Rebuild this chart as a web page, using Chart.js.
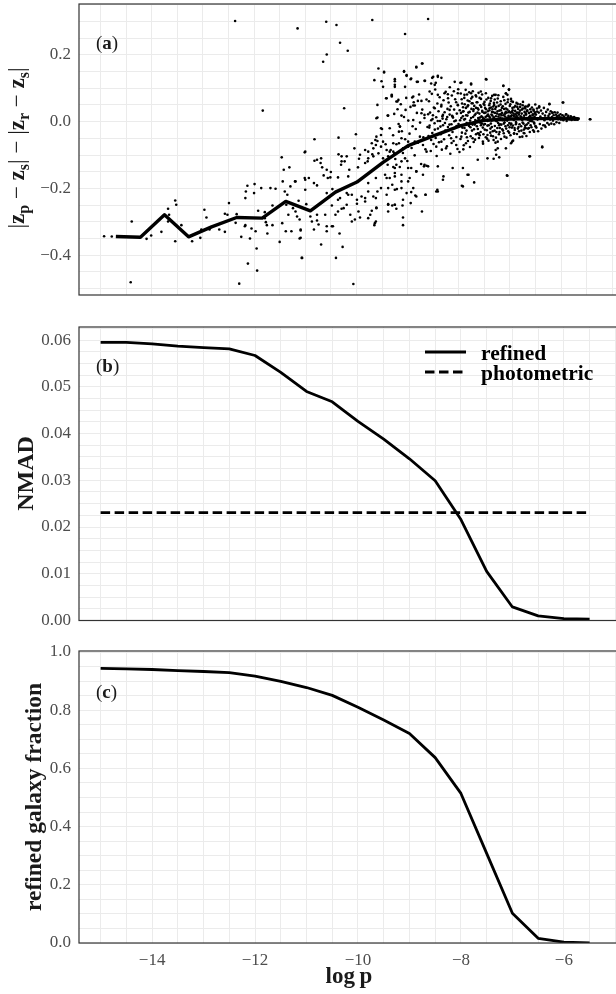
<!DOCTYPE html>
<html>
<head>
<meta charset="utf-8">
<script src="https://cdn.jsdelivr.net/npm/chart.js@4.4.1/dist/chart.umd.min.js"></script>
<style>
  html, body { margin: 0; padding: 0; background: #fff; overflow: hidden; width: 616px; height: 994px; }
  canvas { position: absolute; left: 0; }
  #chartA { top: 0; }
  #chartB { top: 305px; }
  #chartC { top: 630px; }
</style>
</head>
<body>
<canvas id="chartA" width="622" height="300"></canvas>
<canvas id="chartB" width="622" height="320"></canvas>
<canvas id="chartC" width="622" height="364"></canvas>
<script>
// ---- data ----
// panel (a): running median of |zp-zs|-|zr-zs| against log p
const medianLogP = [-14.70, -14.22, -13.75, -13.28, -12.83, -12.34, -11.84, -11.38, -10.90, -10.41,
                    -9.99, -9.48, -8.99, -8.47, -7.96, -7.50, -6.98, -6.47, -6.01, -5.66];
const medianDz = [-0.344, -0.346, -0.279, -0.345, -0.315, -0.287, -0.289, -0.239, -0.267, -0.211,
                  -0.181, -0.122, -0.072, -0.041, -0.012, 0.004, 0.008, 0.009, 0.009, 0.007];

// panel (a): individual galaxies [log p, dz]
const galaxies = [
  [-14.93,-0.343],[-14.78,-0.344],[-14.39,-0.299],[-14.41,-0.481],[-14.10,-0.351],[-14.01,-0.341],[-13.81,-0.330],
  [-13.68,-0.299],[-13.68,-0.261],[-13.66,-0.279],[-13.54,-0.236],[-13.52,-0.249],[-13.54,-0.358],[-13.42,-0.310],
  [-13.21,-0.358],[-13.03,-0.323],[-13.05,-0.348],[-12.97,-0.264],[-12.93,-0.287],[-12.87,-0.323],[-12.68,-0.323],
  [-12.57,-0.276],[-12.52,-0.279],[-12.57,-0.330],[-12.49,-0.244],[-12.37,0.301],[-12.29,-0.485],[-12.36,-0.303],
  [-12.34,-0.277],[-12.25,-0.345],[-12.18,-0.313],[-12.17,-0.229],[-12.16,-0.209],[-12.13,-0.192],[-12.17,-0.310],
  [-12.12,-0.425],[-12.08,-0.350],[-12.05,-0.320],[-12.00,-0.214],[-11.99,-0.187],[-11.97,-0.328],[-11.95,-0.380],
  [-11.94,-0.446],[-11.92,-0.267],[-11.86,-0.199],[-11.83,0.033],[-11.79,-0.271],[-11.79,-0.289],[-11.77,-0.301],
  [-11.75,-0.310],[-11.74,-0.335],[-11.68,-0.199],[-11.64,-0.251],[-11.64,-0.310],[-11.58,-0.201],[-11.50,-0.360],
  [-11.46,-0.107],[-11.45,-0.304],[-11.44,-0.179],[-11.42,-0.144],[-11.40,-0.209],[-11.38,-0.328],[-11.37,-0.249],
  [-11.35,-0.219],[-11.33,-0.279],[-11.31,-0.137],[-11.29,-0.194],[-11.27,-0.328],[-11.24,-0.259],[-11.20,-0.179],
  [-11.19,-0.269],[-11.16,-0.284],[-11.15,0.279],[-11.13,-0.237],[-11.11,-0.293],[-11.11,-0.350],[-11.09,-0.323],
  [-11.07,-0.408],[-11.01,-0.092],[-11.00,-0.174],[-11.19,-0.179],[-10.93,-0.169],
  [-10.59,0.299],[-10.39,0.289],[-9.69,0.304],[-8.60,0.307],[-9.05,0.262],[-10.32,0.236],[-10.17,0.212],
  [-10.58,0.201],[-10.65,0.179],[-10.24,0.040],[-10.82,-0.053],[-11.00,-0.090],[-9.57,0.159],[-9.46,0.147],
  [-9.65,0.124],[-9.51,0.121],[-9.25,0.121],[-9.07,0.151],[-9.02,0.137],[-8.94,0.127],[-8.83,0.162],[-8.72,0.174],
  [-8.82,0.119],[-8.67,0.122],[-8.50,0.134],[-8.41,0.137],[-8.34,0.131],[-8.45,0.116],[-7.97,0.116],[-7.76,0.114],
  [-7.46,0.126],[-7.13,0.107],[-7.02,0.095],[-7.08,0.084],[-9.59,0.050],[-9.42,0.070],[-9.31,0.078],[-9.20,0.060],
  [-9.61,0.010],[-9.39,0.018],[-8.91,0.072],[-8.89,0.048],[-8.80,0.062],[-9.04,0.035],[-9.15,-0.015],[-9.17,-0.030],
  [-9.35,-0.020],[-9.52,-0.020],[-9.52,-0.040],[-9.61,-0.045],[-10.35,-0.048],[-10.82,-0.117],[-10.77,-0.114],
  [-11.01,-0.169],[-11.00,-0.204],[-10.98,-0.247],[-10.83,-0.184],[-10.77,-0.191],[-10.70,-0.124],[-10.67,-0.137],
  [-10.69,-0.110],[-10.64,-0.161],[-10.56,-0.169],[-10.50,-0.151],[-10.58,-0.214],[-10.47,-0.202],[-10.35,-0.098],
  [-10.29,-0.104],[-10.30,-0.129],[-10.23,-0.119],[-10.36,-0.167],[-10.16,-0.164],[-10.04,-0.080],[-10.01,-0.038],
  [-9.95,-0.111],[-9.93,-0.099],[-9.97,-0.137],[-9.83,-0.124],[-9.77,-0.110],[-9.69,-0.098],[-9.62,-0.070],
  [-9.67,-0.080],[-9.57,-0.095],[-9.59,-0.058],[-9.48,-0.060],[-9.43,-0.068],[-9.33,-0.085],[-9.26,-0.095],
  [-9.17,-0.065],[-9.09,-0.080],[-8.99,-0.060],[-9.48,-0.110],[-9.39,-0.129],[-9.28,-0.136],[-9.22,-0.129],
  [-9.12,-0.119],[-9.05,-0.110],[-9.41,-0.169],[-9.25,-0.164],[-9.12,-0.159],[-8.99,-0.179],[-8.93,-0.139],
  [-8.83,-0.149],[-8.68,-0.134],[-8.63,-0.132],[-9.52,-0.199],[-9.59,-0.209],[-9.38,-0.199],[-9.30,-0.189],
  [-9.21,-0.202],[-9.12,-0.199],[-9.62,-0.229],[-9.41,-0.219],[-8.93,-0.211],[-8.85,-0.221],[-9.38,-0.247],
  [-9.30,-0.251],[-9.22,-0.261],[-9.10,-0.251],[-9.09,-0.287],[-9.09,-0.310],[-9.62,-0.299],[-9.70,-0.267],
  [-9.73,-0.279],[-9.65,-0.310],[-8.72,-0.269],[-8.65,-0.219],[-8.44,-0.209],[-8.42,-0.204],[-7.94,-0.192],
  [-7.70,-0.182],[-7.81,-0.159],[-8.30,-0.164],[-7.06,-0.161],[-6.62,-0.104],[-6.37,-0.077],[-5.43,0.007],
  [-5.97,0.057],[-6.23,0.053],[-10.06,-0.486],[-10.40,-0.408],[-10.27,-0.375],[-10.69,-0.368],[-11.06,-0.408],
  [-10.33,-0.335],[-10.46,-0.313],[-10.58,-0.328],[-10.83,-0.323],[-10.77,-0.296],[-11.09,-0.326],[-11.09,-0.348],
  [-10.90,-0.284],[-10.61,-0.279],[-10.48,-0.251],[-10.29,-0.261],[-10.19,-0.249],[-10.12,-0.279],[-10.03,-0.293],
  [-9.99,-0.246],[-9.90,-0.224],[-9.83,-0.239],[-9.93,-0.287],[-9.77,-0.184],[-10.16,-0.219],[-10.36,-0.234],
  [-9.62,-0.169],[-9.61,-0.257],
  [-10.58,-0.144],[-10.51,-0.167],[-10.19,-0.104],[-10.29,-0.119],[-10.14,-0.144],[-9.83,-0.085],[-9.77,-0.090],
  [-9.78,-0.119],[-9.70,-0.065],[-9.63,-0.055],[-9.67,-0.104],[-9.52,-0.075],[-9.50,-0.022],[-9.41,-0.085],
  [-9.38,-0.104],[-9.28,-0.090],[-9.44,-0.159],[-9.35,-0.169],[-9.25,-0.139],[-9.59,0.012],[-9.38,0.018],
  [-9.31,0.075],[-9.41,0.070],[-9.46,0.149],[-9.48,0.104],[-9.25,0.110],[-9.22,0.060],[-9.96,-0.269],
  [-10.09,-0.299],[-9.77,-0.289],[-9.64,-0.304],[-9.61,-0.259],[-9.38,-0.249],[-9.25,-0.249],[-9.38,-0.269],
  [-9.77,-0.209],[-9.67,-0.224],[-9.83,-0.229],[-10.19,-0.214],[-10.32,-0.229],[-10.25,-0.259],[-10.41,-0.279],
  [-10.77,-0.279],[-10.74,-0.308],[-10.87,-0.299],[-10.58,-0.313],[-10.48,-0.313],[-10.36,-0.269],[-9.99,-0.234],
  [-10.09,-0.219],
  [-9.07,0.149],[-9.02,0.139],[-8.71,0.174],[-8.83,0.164],[-8.93,0.129],[-9.25,0.127],[-9.25,0.104],[-9.05,0.104],
  [-8.80,0.119],[-8.66,0.122],[-8.52,0.131],[-8.41,0.134],[-8.47,0.110],[-8.54,0.114],[-8.08,0.119],[-7.95,0.117],
  [-7.76,0.111],[-7.47,0.127],[-9.31,0.080],[-9.18,0.065],[-8.89,0.075],[-8.86,0.048],[-8.73,0.062],[-8.57,0.090],
  [-8.41,0.080],[-8.28,0.085],[-8.21,0.070],[-8.02,0.085],[-7.89,0.080],[-7.76,0.085],[-7.66,0.075],[-7.57,0.090],
  [-7.37,0.070],[-7.31,0.080],[-8.73,0.025],[-8.67,0.020],[-8.60,0.022],[-8.89,0.005],[-9.12,0.018],[-9.15,-0.015],
  [-8.47,0.040],[-8.34,0.050],[-8.31,0.020],[-8.18,0.035],[-8.12,0.015],[-8.02,0.050],[-7.92,0.030],[-7.83,0.045],
  [-7.73,0.055],[-7.63,0.040],[-7.50,0.050],[-7.40,0.040],[-7.31,0.050],
  [-9.35,-0.090],[-9.28,-0.065],[-9.12,-0.050],[-8.99,-0.075],[-8.86,-0.060],[-8.76,-0.045],[-8.70,-0.070],
  [-8.63,-0.090],[-8.54,-0.055],[-8.44,-0.075],[-8.34,-0.060],[-8.25,-0.080],[-8.15,-0.050],[-8.05,-0.070],
  [-7.95,-0.045],[-7.86,-0.065],[-7.73,-0.050],[-7.63,-0.035],[-7.53,-0.060],[-7.44,-0.040],[-7.32,-0.055],
  [-7.63,-0.114],[-7.44,-0.110],[-7.92,-0.139],[-8.12,-0.139],[-8.41,-0.134],[-8.67,-0.129],[-8.83,-0.149],
  [-8.99,-0.139],[-9.25,-0.154],[-9.12,-0.179],[-8.96,-0.169],[-8.70,-0.159],[-8.60,-0.134],[-8.41,-0.209],
  [-8.31,-0.174],[-7.92,-0.194],[-7.83,-0.159],[-8.89,-0.199],[-9.25,-0.204],[-9.02,-0.214],[-8.83,-0.224],
  [-9.09,-0.234],[-9.25,-0.249],[-8.94,-0.244],[-8.65,-0.219],[-7.24,-0.080],[-7.27,-0.099],
  [-7.13,0.107],[-7.08,0.085],[-7.02,0.097],[-7.05,0.080],[-7.28,0.080],[-6.98,0.068],[-6.63,0.050],[-6.69,0.045],
  [-6.47,0.030],[-6.43,0.042],[-6.23,0.052],[-5.96,0.057],[-6.17,0.027],[-5.90,0.022],[-5.44,0.007],[-6.37,-0.075],
  [-6.61,-0.104],[-7.05,-0.162],[-7.21,-0.107],[-7.32,-0.111],[-7.28,-0.085],[-7.08,-0.080],[-6.96,-0.060],
  [-6.98,-0.065],[-6.76,-0.045],[-6.53,-0.030],[-6.69,-0.020],[-6.50,-0.015],[-6.32,-0.012],[-6.72,-0.035],
  [-6.92,-0.035],[-7.24,-0.060],
  // crowded core between log p = -8 and -6.5
  [-7.982,0.034],[-7.967,-0.052],[-7.951,0.011],[-7.944,0.067],[-7.931,-0.018],[-7.917,0.043],[-7.903,-0.071],[-7.896,0.006],
  [-7.884,0.052],[-7.871,-0.036],[-7.858,0.019],[-7.846,-0.004],[-7.839,0.081],[-7.822,-0.058],[-7.813,0.027],[-7.801,-0.013],
  [-7.793,0.061],[-7.779,0.003],[-7.768,-0.044],[-7.754,0.038],[-7.742,-0.027],[-7.736,0.074],[-7.721,0.014],[-7.709,-0.061],
  [-7.698,0.047],[-7.687,-0.009],[-7.672,0.023],[-7.664,-0.038],[-7.651,0.058],[-7.643,0.002],[-7.628,-0.022],[-7.617,0.036],
  [-7.606,-0.049],[-7.594,0.071],[-7.588,0.012],[-7.573,-0.031],[-7.562,0.044],[-7.551,-0.006],[-7.539,0.029],[-7.527,-0.066],
  [-7.516,0.053],[-7.508,0.008],[-7.494,-0.024],[-7.486,0.041],[-7.473,-0.047],[-7.461,0.066],[-7.452,0.017],[-7.441,-0.012],
  [-7.433,0.031],[-7.419,-0.057],[-7.407,0.049],[-7.398,0.004],[-7.386,-0.033],[-7.377,0.062],[-7.363,0.021],[-7.355,-0.016],
  [-7.341,0.037],[-7.332,-0.044],[-7.321,0.009],[-7.314,0.056],[-7.302,-0.027],[-7.291,0.026],[-7.283,-0.063],[-7.271,0.044],
  [-7.262,0.001],[-7.248,-0.019],[-7.239,0.069],[-7.227,0.015],[-7.216,-0.038],[-7.207,0.033],[-7.196,-0.008],[-7.184,0.051],
  [-7.176,-0.052],[-7.163,0.019],[-7.152,-0.023],[-7.141,0.046],[-7.133,0.007],[-7.122,-0.035],[-7.111,0.064],[-7.103,0.024],
  [-7.089,-0.014],[-7.078,0.039],[-7.069,-0.048],[-7.057,0.011],[-7.046,0.058],[-7.037,-0.029],[-7.024,0.028],[-7.013,-0.004],
  [-7.004,0.047],[-6.991,-0.041],[-6.983,0.016],[-6.971,0.061],[-6.962,-0.018],[-6.948,0.034],[-6.939,-0.057],[-6.927,0.005],
  [-6.918,0.043],[-6.906,-0.025],[-6.894,0.022],[-6.886,-0.008],[-6.873,0.056],[-6.864,-0.037],[-6.852,0.013],[-6.841,0.038],
  [-6.833,-0.016],[-6.821,0.027],[-6.809,-0.046],[-6.798,0.052],[-6.789,0.009],[-6.777,-0.027],[-6.766,0.036],[-6.754,-0.003],
  [-6.746,0.059],[-6.733,-0.034],[-6.722,0.018],[-6.711,0.044],[-6.703,-0.012],[-6.691,0.025],[-6.679,-0.043],[-6.668,0.031],
  [-6.659,0.006],[-6.647,-0.021],[-6.636,0.048],[-6.624,0.014],[-6.613,-0.031],[-6.604,0.037],[-6.592,0.002],[-6.581,-0.017],
  [-6.572,0.042],[-6.559,0.019],[-6.548,-0.026],[-6.537,0.033],[-6.526,-0.006],[-6.514,0.024],[-6.506,0.051],[-6.502,-0.013],
  [-7.975,0.004],[-7.958,0.026],[-7.939,-0.033],[-7.921,0.016],[-7.908,0.031],[-7.889,-0.019],[-7.877,0.008],[-7.861,0.041],
  [-7.849,-0.027],[-7.832,0.018],[-7.818,0.049],[-7.807,-0.007],[-7.788,0.029],[-7.773,-0.017],[-7.761,0.011],[-7.748,0.055],
  [-7.731,-0.009],[-7.716,0.032],[-7.703,-0.023],[-7.692,0.019],[-7.678,0.005],[-7.661,0.041],[-7.647,-0.014],[-7.633,0.027],
  [-7.621,0.011],[-7.609,-0.036],[-7.598,0.024],[-7.581,0.049],[-7.568,-0.011],[-7.557,0.016],[-7.543,0.032],[-7.531,-0.018],
  [-7.522,0.009],[-7.503,0.026],[-7.489,-0.007],[-7.477,0.014],[-7.466,0.037],[-7.455,-0.026],[-7.444,0.005],[-7.428,0.021],
  [-7.415,-0.011],[-7.403,0.034],[-7.391,0.012],[-7.382,-0.021],[-7.369,0.042],[-7.358,0.003],[-7.346,0.018],[-7.337,-0.029],
  [-7.325,0.028],[-7.309,0.006],[-7.296,-0.013],[-7.287,0.038],[-7.276,0.016],[-7.266,-0.031],[-7.253,0.024],[-7.243,0.008],
  [-7.231,-0.004],[-7.221,0.047],[-7.211,0.021],[-7.199,-0.019],[-7.188,0.012],[-7.179,0.034],[-7.167,-0.009],[-7.157,0.026],
  [-7.146,0.004],[-7.137,-0.027],[-7.126,0.019],[-7.115,0.038],[-7.106,-0.002],[-7.094,0.015],[-7.083,0.029],[-7.074,-0.021],
  [-7.061,0.008],[-7.051,0.036],[-7.041,-0.011],[-7.029,0.017],[-7.018,0.031],[-7.008,-0.017],[-6.996,0.009],[-6.987,0.027],
  [-6.976,-0.006],[-6.966,0.019],[-6.953,0.041],[-6.944,-0.012],[-6.931,0.024],[-6.922,0.006],[-6.911,-0.019],[-6.899,0.032],
  [-6.889,0.013],[-6.878,-0.004],[-6.868,0.027],[-6.857,0.044],[-6.846,-0.021],[-6.837,0.009],[-6.826,0.021],[-6.814,-0.008],
  [-6.803,0.033],[-6.793,0.016],[-6.782,-0.014],[-6.771,0.024],[-6.761,0.005],[-6.749,0.039],[-6.738,-0.006],[-6.727,0.012],
  [-6.716,0.029],[-6.707,-0.018],[-6.695,0.008],[-6.684,0.021],[-6.673,-0.009],[-6.663,0.034],[-6.652,0.011],[-6.641,-0.004],
  [-6.629,0.026],[-6.619,0.003],[-6.608,0.017],[-6.597,-0.011],[-6.586,0.029],[-6.576,0.012],[-6.564,0.001],[-6.553,0.022],
  [-6.542,0.036],[-6.531,-0.003],[-6.521,0.015],[-6.511,0.028],
  [-8.214,0.082],[-8.176,0.103],[-8.141,-0.064],[-8.097,0.091],[-8.052,0.058],[-8.011,0.097],[-7.987,-0.091],[-7.962,0.084],
  [-7.936,0.054],[-7.912,-0.083],[-7.893,0.071],[-7.866,0.095],[-7.842,-0.047],[-7.827,0.063],[-7.797,0.088],[-7.782,-0.076],
  [-7.758,0.069],[-7.727,0.091],[-7.712,0.037],[-7.683,-0.054],[-7.669,0.079],[-7.638,0.058],[-7.614,0.086],[-7.591,-0.041],
  [-7.566,0.068],[-7.545,0.081],[-7.519,-0.038],[-7.498,0.059],[-7.471,0.085],[-7.447,-0.051],[-7.424,0.071],[-7.395,0.054],
  [-7.372,-0.042],[-7.348,0.077],[-7.327,0.045],[-7.298,0.066],[-7.274,-0.048],[-7.252,0.057],[-7.228,0.079],[-7.204,-0.031],
  [-7.181,0.061],[-7.159,0.041],[-7.131,0.074],[-7.108,-0.045],[-7.087,0.053],[-7.063,0.027],[-7.039,0.066],[-7.016,-0.033],
  [-6.993,0.052],[-6.969,0.028],[-6.943,0.059],[-6.921,-0.036],[-6.897,0.047],[-6.872,0.018],[-6.849,0.053],[-6.823,-0.029],
  [-6.801,0.044],[-6.776,0.014],[-6.752,0.049],[-6.728,-0.024],[-6.702,0.039],[-6.677,0.011],[-6.654,0.045],[-6.631,-0.019],
  [-7.612,0.006],[-7.583,-0.003],[-7.538,0.013],[-7.512,-0.009],[-7.476,0.027],[-7.438,0.002],[-7.412,0.016],[-7.374,-0.006],
  [-7.352,0.029],[-7.318,0.013],[-7.281,0.004],[-7.245,0.031],[-7.213,-0.011],[-7.186,0.022],[-7.148,0.009],[-7.119,-0.006],
  [-7.092,0.024],[-7.055,0.003],[-7.022,0.014],[-6.985,-0.009],[-6.958,0.029],[-6.925,0.017],[-6.884,-0.001],[-6.851,0.026],
  // log p = -8.6 to -8
  [-8.592,-0.043],[-8.583,0.061],[-8.571,-0.012],[-8.562,0.027],[-8.548,-0.088],[-8.539,0.004],[-8.527,0.083],[-8.518,-0.034],
  [-8.506,0.019],[-8.494,-0.067],[-8.487,0.042],[-8.473,-0.005],[-8.461,0.096],[-8.452,-0.049],[-8.441,0.013],[-8.433,-0.103],
  [-8.419,0.054],[-8.408,-0.021],[-8.396,0.031],[-8.387,-0.062],[-8.374,0.073],[-8.366,0.002],[-8.352,-0.038],[-8.343,0.045],
  [-8.331,-0.084],[-8.322,0.016],[-8.309,-0.011],[-8.298,0.064],[-8.288,-0.053],[-8.277,0.028],[-8.264,-0.027],[-8.256,0.089],
  [-8.243,0.007],[-8.233,-0.074],[-8.221,0.038],[-8.212,-0.016],[-8.199,0.057],[-8.188,-0.041],[-8.179,0.021],[-8.166,-0.096],
  [-8.157,0.046],[-8.144,-0.008],[-8.136,0.078],[-8.123,-0.031],[-8.114,0.012],[-8.102,-0.058],[-8.091,0.036],[-8.082,-0.019],
  [-8.071,0.067],[-8.059,0.003],[-8.048,-0.046],[-8.039,0.024],[-8.026,-0.082],[-8.017,0.049],[-8.006,-0.007],
  [-8.577,-0.018],[-8.513,0.008],[-8.468,-0.024],[-8.412,0.002],[-8.359,-0.015],[-8.317,0.009],[-8.271,-0.004],[-8.226,0.014],
  [-8.183,-0.009],[-8.131,0.017],[-8.087,0.001],[-8.044,-0.013],
  // log p = -9.3 to -8.6
  [-9.284,-0.041],[-9.262,0.023],[-9.241,-0.112],[-9.219,-0.068],[-9.197,0.037],[-9.176,-0.007],[-9.153,-0.136],[-9.134,0.052],
  [-9.113,-0.029],[-9.092,-0.094],[-9.071,0.014],[-9.048,-0.053],[-9.027,0.071],[-9.006,-0.118],[-8.987,0.003],[-8.963,-0.036],
  [-8.944,0.044],[-8.922,-0.079],[-8.903,-0.014],[-8.881,0.058],[-8.862,-0.101],[-8.841,-0.022],[-8.819,0.026],[-8.798,-0.063],
  [-8.776,0.081],[-8.757,-0.003],[-8.736,-0.127],[-8.714,0.036],[-8.693,-0.047],[-8.671,0.011],[-8.652,-0.083],[-8.631,0.066],
  [-8.612,-0.016],
  // log p = -6.5 to -6
  [-6.493,0.021],[-6.484,-0.018],[-6.471,0.039],[-6.462,0.006],[-6.451,-0.029],[-6.438,0.027],[-6.429,0.046],[-6.417,-0.007],
  [-6.406,0.015],[-6.394,0.033],[-6.386,-0.021],[-6.373,0.009],[-6.362,0.024],[-6.351,-0.011],[-6.338,0.041],[-6.327,0.004],
  [-6.316,0.018],[-6.306,-0.016],[-6.294,0.029],[-6.283,0.011],[-6.271,-0.004],[-6.262,0.036],[-6.249,0.017],[-6.238,-0.009],
  [-6.227,0.023],[-6.216,0.006],[-6.204,0.031],[-6.193,-0.006],[-6.182,0.014],[-6.171,0.026],[-6.161,0.003],[-6.148,0.019],
  [-6.137,-0.008],[-6.126,0.028],[-6.114,0.011],[-6.103,0.021],[-6.092,-0.002],[-6.081,0.016],[-6.071,0.027],[-6.059,0.007],
  [-6.048,0.018],[-6.037,-0.004],[-6.026,0.013],[-6.014,0.022],[-6.004,0.006],
  // tail
  [-5.991,0.012],[-5.973,0.019],[-5.958,0.004],[-5.941,0.015],[-5.926,0.009],[-5.909,0.021],[-5.893,0.002],[-5.876,0.013],
  [-5.861,0.017],[-5.844,0.007],[-5.829,0.011],[-5.812,0.016],[-5.797,0.005],[-5.781,0.012],[-5.764,0.009],[-5.748,0.014],
  [-5.733,0.006],[-5.716,0.011],[-5.701,0.008],[-5.686,0.010],[-5.671,0.007],[-5.658,0.009]
];

// panel (b) and (c): binned in log p
const binLogP = [-15, -14.5, -14, -13.5, -13, -12.5, -12, -11.5, -11, -10.5,
                 -10, -9.5, -9, -8.5, -8, -7.5, -7, -6.5, -6, -5.5];
const nmadRefined = [0.0595, 0.0595, 0.0592, 0.0587, 0.0584, 0.0581, 0.0567, 0.0531, 0.0490, 0.0468,
                     0.0426, 0.0388, 0.0346, 0.0299, 0.0216, 0.0105, 0.0029, 0.0010, 0.0004, 0.0003];
const photoLogP = [-15, -5.5];
const nmadPhotometric = [0.0231, 0.0231];
const refinedFraction = [0.944, 0.942, 0.940, 0.936, 0.933, 0.929, 0.917, 0.899, 0.878, 0.851,
                         0.810, 0.766, 0.720, 0.637, 0.514, 0.308, 0.102, 0.016, 0.003, 0.000];

// ---- shared styling ----
const SERIF = '"Liberation Serif", "Times New Roman", serif';
const X_MIN = -15.42, X_MAX = -4.89;
const GRID = '#ebebeb';
const TICK_COLOR = '#4d4d4d';

function gridTicks(from, to, step) {
  const out = [];
  for (let v = from; v <= to + step / 2; v += step) {
    out.push({ value: Math.round(v * 1e6) / 1e6 });
  }
  return out;
}

function isMultiple(v, m) {
  return Math.abs(v / m - Math.round(v / m)) < 1e-6;
}

function fmt(v, dec) {
  return (v < -1e-9 ? '\u2212' : '') + Math.abs(v).toFixed(dec);
}

function pts(xs, ys) {
  return xs.map((x, i) => ({ x: x, y: ys[i] }));
}

function makeOptions(o) {
  return {
    responsive: false,
    animation: false,
    devicePixelRatio: 1,
    layout: { padding: o.padding },
    plugins: { legend: { display: false }, tooltip: { enabled: false } },
    scales: {
      x: {
        type: 'linear',
        min: X_MIN,
        max: X_MAX,
        afterBuildTicks: (s) => { s.ticks = gridTicks(-15, -5, 0.5); },
        afterFit: (s) => { s.height = o.xHeight; s.paddingLeft = 0; s.paddingRight = 0; },
        grid: { color: GRID, lineWidth: 1, drawTicks: false },
        border: { display: false },
        ticks: {
          display: o.showX,
          autoSkip: false,
          maxRotation: 0,
          padding: 7,
          color: TICK_COLOR,
          font: { family: SERIF, size: 17 },
          callback: (v) => (isMultiple(v, 2) ? fmt(v, 0) : '')
        }
      },
      y: {
        type: 'linear',
        min: o.yMin,
        max: o.yMax,
        afterBuildTicks: (s) => { s.ticks = gridTicks(o.gridFrom, o.gridTo, o.gridStep); },
        afterFit: (s) => { s.width = 79; s.paddingTop = 0; s.paddingBottom = 0; },
        grid: { color: GRID, lineWidth: 1, drawTicks: false },
        border: { display: false },
        ticks: {
          autoSkip: false,
          padding: 8,
          color: TICK_COLOR,
          font: { family: SERIF, size: 17 },
          callback: (v) => (isMultiple(v, o.labelEvery) ? fmt(v, o.dec) : '')
        }
      }
    }
  };
}

// draws a run of text pieces (for sub-scripts / mixed weights)
function richText(ctx, parts, x, y, rotate, align) {
  ctx.save();
  ctx.translate(x, y);
  if (rotate) ctx.rotate(-Math.PI / 2);
  ctx.textBaseline = 'alphabetic';
  ctx.textAlign = 'left';
  let w = 0;
  parts.forEach((p) => { ctx.font = p.font; w += ctx.measureText(p.t).width; });
  let cx = align === 'left' ? 0 : -w / 2;
  parts.forEach((p) => {
    ctx.font = p.font;
    ctx.fillStyle = p.color || '#1a1a1a';
    ctx.fillText(p.t, cx, p.dy || 0);
    cx += ctx.measureText(p.t).width;
  });
  ctx.restore();
}

const REG = (s) => s + 'px ' + SERIF;
const BOLD = (s) => 'bold ' + s + 'px ' + SERIF;

function panelLabel(letter) {
  return [
    { t: '(', font: REG(19) },
    { t: letter, font: BOLD(19) },
    { t: ')', font: REG(19) }
  ];
}

function decor(cfg) {
  return {
    id: 'decor',
    afterDraw(chart) {
      const ctx = chart.ctx;
      const a = chart.chartArea;
      ctx.save();
      ctx.strokeStyle = '#333';
      ctx.lineWidth = 1.2;
      ctx.strokeRect(a.left, a.top, a.right - a.left, a.bottom - a.top);
      ctx.restore();

      richText(ctx, panelLabel(cfg.label), 96, cfg.labelY, false, 'left');
      richText(ctx, cfg.title, cfg.titleX, cfg.titleY, true, 'center');

      if (cfg.legend) {
        ctx.save();
        ctx.strokeStyle = '#000';
        ctx.lineWidth = 2.8;
        ctx.beginPath(); ctx.moveTo(425, 47); ctx.lineTo(466, 47); ctx.stroke();
        ctx.setLineDash([9.5, 4.5]);
        ctx.beginPath(); ctx.moveTo(425, 67); ctx.lineTo(466, 67); ctx.stroke();
        ctx.restore();
        richText(ctx, [{ t: 'refined', font: BOLD(21.5), color: '#000' }], 481, 54.5, false, 'left');
        richText(ctx, [{ t: 'photometric', font: BOLD(21.5), color: '#000' }], 481, 74.5, false, 'left');
      }
      if (cfg.xTitle) {
        richText(ctx, [
          { t: 'log', font: BOLD(23) },
          { t: '\u2009p', font: BOLD(23) }
        ], 349, 353, false, 'center');
      }
    }
  };
}

// ---- panel (a) ----
new Chart(document.getElementById('chartA'), {
  type: 'scatter',
  data: {
    datasets: [
      {
        type: 'line',
        data: pts(medianLogP, medianDz),
        borderColor: '#000',
        borderWidth: 3.4,
        borderJoinStyle: 'round',
        pointRadius: 0,
        tension: 0,
        fill: false
      },
      {
        data: galaxies.map((g) => ({ x: g[0], y: g[1] })),
        pointRadius: 1.3,
        pointBackgroundColor: '#000',
        pointBorderWidth: 0,
        showLine: false
      }
    ]
  },
  options: makeOptions({
    yMin: -0.519, yMax: 0.352, gridFrom: -0.5, gridTo: 0.35, gridStep: 0.05,
    labelEvery: 0.2, dec: 1, showX: false, xHeight: 0,
    padding: { top: 3, bottom: 5, left: 0, right: 1 }
  }),
  plugins: [decor({
    label: 'a', labelY: 48.5, titleX: 24, titleY: 148,
    title: [
      { t: '|', font: REG(23) },
      { t: 'z', font: BOLD(23) },
      { t: 'p', font: BOLD(16), dy: 5 },
      { t: ' \u2212 ', font: REG(23) },
      { t: 'z', font: BOLD(23) },
      { t: 's', font: BOLD(16), dy: 5 },
      { t: '| \u2212 |', font: REG(23) },
      { t: 'z', font: BOLD(23) },
      { t: 'r', font: BOLD(16), dy: 5 },
      { t: ' \u2212 ', font: REG(23) },
      { t: 'z', font: BOLD(23) },
      { t: 's', font: BOLD(16), dy: 5 },
      { t: '|', font: REG(23) }
    ]
  })]
});

// ---- panel (b) ----
new Chart(document.getElementById('chartB'), {
  type: 'line',
  data: {
    datasets: [
      {
        data: pts(binLogP, nmadRefined),
        borderColor: '#000',
        borderWidth: 2.8,
        borderJoinStyle: 'round',
        pointRadius: 0,
        tension: 0,
        fill: false
      },
      {
        data: pts(photoLogP, nmadPhotometric),
        borderColor: '#000',
        borderWidth: 2.8,
        borderDash: [9.5, 4.5],
        pointRadius: 0,
        tension: 0,
        fill: false
      }
    ]
  },
  options: makeOptions({
    yMin: 0, yMax: 0.0628, gridFrom: 0, gridTo: 0.0625, gridStep: 0.0025,
    labelEvery: 0.01, dec: 2, showX: false, xHeight: 0,
    padding: { top: 22, bottom: 4.5, left: 0, right: 1 }
  }),
  plugins: [decor({
    label: 'b', labelY: 67, titleX: 33, titleY: 168.5, legend: true,
    title: [{ t: 'NMAD', font: BOLD(24) }]
  })]
});

// ---- panel (c) ----
new Chart(document.getElementById('chartC'), {
  type: 'line',
  data: {
    datasets: [
      {
        data: pts(binLogP, refinedFraction),
        borderColor: '#000',
        borderWidth: 2.8,
        borderJoinStyle: 'round',
        pointRadius: 0,
        tension: 0,
        fill: false
      }
    ]
  },
  options: makeOptions({
    yMin: 0, yMax: 1.0035, gridFrom: 0, gridTo: 1.0, gridStep: 0.05,
    labelEvery: 0.2, dec: 1, showX: true, xHeight: 51,
    padding: { top: 21, bottom: 0, left: 0, right: 1 }
  }),
  plugins: [decor({
    label: 'c', labelY: 67.5, titleX: 41, titleY: 167, xTitle: true,
    title: [{ t: 'refined galaxy fraction', font: BOLD(23.5) }]
  })]
});
</script>
</body>
</html>
